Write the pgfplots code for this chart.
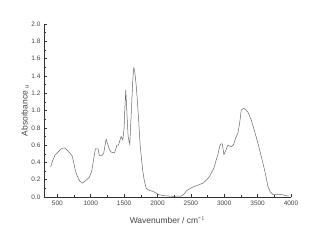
\documentclass[border=0pt]{standalone}
\usepackage{pgfplots}
\pgfplotsset{compat=1.18}
\usepackage{fontspec}
\setmainfont{Liberation Sans}
\definecolor{txt}{HTML}{444444}
\definecolor{crv}{HTML}{666666}
\definecolor{axc}{HTML}{333333}
\begin{document}
\begin{tikzpicture}
\begin{axis}[
  scale only axis,
  width=247bp, height=173bp,
  xmin=300, xmax=4000, ymin=0, ymax=2.0,
  axis lines*=left,
  axis line style={axc, line width=0.6pt},
  xtick={500,1000,...,4000},
  minor xtick={750,1250,...,3750},
  ytick={0,0.2,...,2.0},
  minor ytick={0.1,0.3,...,1.9},
  tick align=inside,
  major tick length=3bp, minor tick length=1.8bp,
  tick style={axc, line width=0.5pt},
  yticklabel style={/pgf/number format/fixed, /pgf/number format/fixed zerofill, /pgf/number format/precision=1},
  xticklabel style={/pgf/number format/1000 sep={}},
  /pgf/number format/assume math mode=true,
  ticklabel style={font=\fontsize{6.5}{7}\selectfont, text=txt},
  xlabel={Wavenumber / cm$^{\mbox{-}1}$},
  ylabel={Absorbance $_{\mathrm{u}}$},
  label style={font=\fontsize{8.5}{10}\selectfont, text=txt},
  xlabel style={yshift=-5bp},
  ylabel style={yshift=-4bp},
  clip=false,
]
\addplot[crv, line width=0.5pt] coordinates {
(400,0.35)(405,0.36)(430,0.42)(465,0.485)(500,0.51)(540,0.545)(580,0.566)(615,0.566)
(650,0.54)(695,0.50)(720,0.48)(745,0.40)(770,0.30)(800,0.24)(830,0.19)(870,0.16)
(900,0.175)(940,0.20)(980,0.23)(1015,0.30)(1040,0.42)(1070,0.555)(1110,0.555)(1130,0.48)
(1170,0.48)(1195,0.51)(1215,0.60)(1230,0.67)(1260,0.60)(1280,0.55)(1305,0.52)(1355,0.51)
(1375,0.55)(1390,0.60)(1415,0.60)(1440,0.66)(1455,0.70)(1480,0.66)(1500,0.80)(1510,1.00)
(1525,1.237)(1540,1.0)(1560,0.70)(1585,0.61)(1600,0.85)(1615,1.10)(1630,1.35)(1645,1.495)
(1660,1.45)(1680,1.30)(1700,1.10)(1720,0.86)(1740,0.60)(1760,0.45)(1780,0.30)(1800,0.20)
(1830,0.10)(1880,0.075)(1930,0.066)(1980,0.045)(2020,0.027)(2100,0.015)(2230,0.008)(2355,0.01)
(2400,0.035)(2430,0.07)(2480,0.095)(2530,0.115)(2600,0.135)(2680,0.16)(2740,0.20)(2780,0.24)
(2830,0.31)(2855,0.36)(2880,0.43)(2905,0.49)(2930,0.58)(2950,0.615)(2970,0.615)(2985,0.54)
(2995,0.49)(3030,0.55)(3055,0.60)(3080,0.59)(3105,0.58)(3140,0.605)(3170,0.68)(3205,0.74)
(3230,0.85)(3255,1.005)(3280,1.02)(3295,1.025)(3320,1.01)(3355,0.98)(3405,0.89)(3455,0.76)
(3505,0.62)(3555,0.47)(3605,0.31)(3635,0.20)(3655,0.12)(3690,0.06)(3730,0.03)(3780,0.03)
(3830,0.03)(3880,0.025)(3930,0.015)(3960,0.01)
};
\end{axis}
\pgfresetboundingbox
\path (-44bp,-49bp) rectangle (275bp,197bp);
\end{tikzpicture}
\end{document}
